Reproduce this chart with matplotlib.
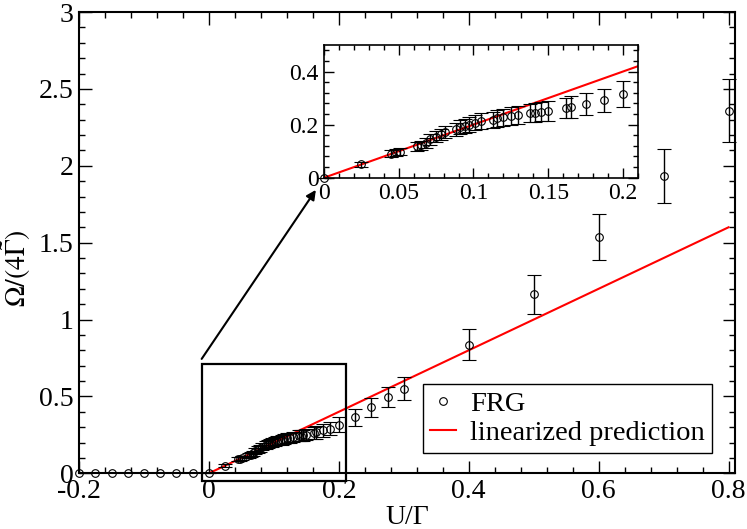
import numpy as np
import matplotlib
matplotlib.use('Agg')
import matplotlib.pyplot as plt
from matplotlib.ticker import MultipleLocator, FuncFormatter
from matplotlib.lines import Line2D
from matplotlib.patches import Rectangle

plt.rcParams['font.family'] = ['Liberation Serif', 'DejaVu Serif']
plt.rcParams['mathtext.fontset'] = 'stix'
plt.rcParams['axes.unicode_minus'] = False

# FRG points at U<0 (Omega = 0)
u_neg = [-0.2, -0.175, -0.15, -0.125, -0.1, -0.075, -0.05, -0.025]
om_neg = [0, 0, 0, 0, 0, 0, 0, 0]

# FRG points with error bars
u = [0, 0.025, 0.045, 0.048, 0.051, 0.062, 0.065, 0.068, 0.071, 0.075,
     0.078, 0.081, 0.088, 0.091, 0.094, 0.097, 0.101, 0.105, 0.113, 0.116,
     0.12, 0.125, 0.13, 0.138, 0.141, 0.145, 0.15, 0.162, 0.165, 0.175,
     0.187, 0.2, 0.225, 0.25, 0.275, 0.3, 0.4, 0.5, 0.6, 0.7, 0.8]
om = [0, 0.05, 0.091, 0.095, 0.098, 0.118, 0.122, 0.13, 0.145, 0.155,
      0.163, 0.172, 0.183, 0.19, 0.195, 0.2, 0.207, 0.213, 0.218, 0.224,
      0.228, 0.232, 0.236, 0.244, 0.245, 0.248, 0.252, 0.263, 0.266, 0.279,
      0.291, 0.316, 0.365, 0.428, 0.493, 0.55, 0.837, 1.163, 1.535, 1.935, 2.357]
om_err = [0, 0.008, 0.012, 0.012, 0.013, 0.016, 0.017, 0.018, 0.02, 0.021,
          0.022, 0.023, 0.025, 0.026, 0.027, 0.028, 0.029, 0.03, 0.031, 0.032,
          0.032, 0.033, 0.034, 0.035, 0.036, 0.036, 0.037, 0.039, 0.04, 0.041,
          0.043, 0.048, 0.055, 0.06, 0.065, 0.076, 0.102, 0.126, 0.15, 0.174, 0.205]

# linearized prediction
lin_u = [-0.2, 0, 0.8]
lin_om = [0, 0, 1.6]
lin_u_inset = [0, 0.21]
lin_om_inset = [0, 0.42]

fmt = FuncFormatter(lambda v, p: '%g' % v)

fig = plt.figure(figsize=(7.47, 5.29), dpi=100)
ax = fig.add_axes([0.1058, 0.1053, 0.8782, 0.872])

ax.plot(lin_u, lin_om, color='red', lw=1.5, zorder=2)
ax.plot(u_neg, om_neg, ls='none', marker='o', mfc='none', mec='k',
        ms=5.5, mew=0.8, clip_on=False, zorder=3)
eb = ax.errorbar(u, om, yerr=om_err, fmt='o', mfc='none', mec='k', ms=5.5,
                 mew=0.8, ecolor='k', elinewidth=1, capsize=5, capthick=1,
                 zorder=3)
for a in eb.get_children():
    a.set_clip_on(False)

ax.set_xlim(-0.2, 0.81)
ax.set_ylim(0, 3)
ax.xaxis.set_major_locator(MultipleLocator(0.2))
ax.xaxis.set_minor_locator(MultipleLocator(0.04))
ax.yaxis.set_major_locator(MultipleLocator(0.5))
ax.yaxis.set_minor_locator(MultipleLocator(0.1))
ax.xaxis.set_major_formatter(fmt)
ax.yaxis.set_major_formatter(fmt)
ax.tick_params(which='both', direction='in', top=True, right=True, width=1)
ax.tick_params(which='major', length=9, labelsize=20, pad=4)
ax.tick_params(which='minor', length=4.5)
for s in ax.spines.values():
    s.set_linewidth(1.5)

ax.set_xlabel('U/Γ', fontsize=20, labelpad=1)
ax.set_ylabel(r'$\Omega/(4\tilde{\Gamma})$', fontsize=20)
ax.yaxis.set_label_coords(-0.07, 0.445)

# zoom box and arrow
ax.add_patch(Rectangle((-0.0112, -0.048), 0.222, 0.761, fill=False, lw=1.6,
                       ec='k', clip_on=False, zorder=5))
ax.annotate('', xy=(0.1646, 1.843), xytext=(-0.0112, 0.744),
            arrowprops=dict(arrowstyle='-|>', lw=1.5, color='k',
                            mutation_scale=14, shrinkA=0, shrinkB=0))

handles = [Line2D([], [], ls='none', marker='o', mfc='none', mec='k', ms=5.5, mew=0.8),
           Line2D([], [], color='red', lw=1.5)]
leg = ax.legend(handles, ['FRG', 'linearized prediction'], loc='lower right',
                bbox_to_anchor=(0.965, 0.044), fontsize=20.5, fancybox=False,
                edgecolor='k', framealpha=1, handlelength=0.9,
                handletextpad=0.5, borderpad=0.25, labelspacing=0.1,
                borderaxespad=0)
leg.get_frame().set_linewidth(1)

# inset
ins = fig.add_axes([0.4337, 0.664, 0.4203, 0.251])
ins.plot(lin_u_inset, lin_om_inset, color='red', lw=1.5, zorder=2)
sel = [i for i in range(len(u)) if u[i] <= 0.21]
eb2 = ins.errorbar([u[i] for i in sel], [om[i] for i in sel],
                   yerr=[om_err[i] for i in sel], fmt='o', mfc='none',
                   mec='k', ms=5.5, mew=0.8, ecolor='k', elinewidth=1,
                   capsize=5, capthick=1, zorder=3)
for a in eb2.get_children():
    a.set_clip_on(False)
ins.set_xlim(0, 0.21)
ins.set_ylim(0, 0.5)
ins.xaxis.set_major_locator(MultipleLocator(0.05))
ins.xaxis.set_minor_locator(MultipleLocator(0.01))
ins.yaxis.set_major_locator(MultipleLocator(0.2))
ins.yaxis.set_minor_locator(MultipleLocator(0.04))
ins.xaxis.set_major_formatter(fmt)
ins.yaxis.set_major_formatter(fmt)
ins.tick_params(which='both', direction='in', top=True, right=True, width=1)
ins.tick_params(which='major', length=7, labelsize=17, pad=4)
ins.tick_params(which='minor', length=3.5)
for s in ins.spines.values():
    s.set_linewidth(1.2)

fig.savefig('out.png', dpi=100)
